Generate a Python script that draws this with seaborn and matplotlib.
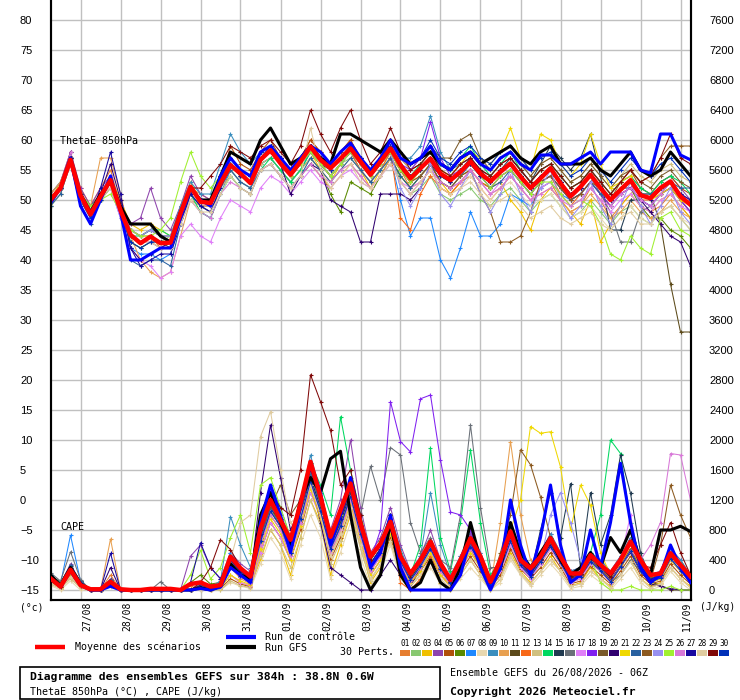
import matplotlib
matplotlib.use("Agg")
import matplotlib.pyplot as plt
from matplotlib.patches import Rectangle
from matplotlib.transforms import blended_transform_factory, offset_copy
import seaborn as sns

# ---------------- data (6-hourly steps, 0..384h from 26/08 06Z) ----------------
hours = list(range(0, 385, 6))
day_hours = [18, 42, 66, 90, 114, 138, 162, 186, 210, 234, 258, 282, 306, 330, 354, 378]
day_labels = ["27/08", "28/08", "29/08", "30/08", "31/08", "01/09", "02/09", "03/09",
              "04/09", "05/09", "06/09", "07/09", "08/09", "09/09", "10/09", "11/09"]

# ThetaE 850hPa (°C)
mean_theta = [50.0, 52.0, 56.7, 50.8, 47.6, 50.6, 53.3, 48.3, 44.2, 42.8,
              43.9, 42.8, 42.9, 47.8, 52.2, 49.7, 49.5, 52.8, 55.8, 54.4,
              52.8, 56.7, 58.3, 56.1, 54.2, 56.4, 58.9, 56.7, 55.3, 56.9,
              58.6, 56.4, 54.2, 56.4, 58.6, 55.8, 53.6, 55.3, 56.9, 54.4,
              53.3, 54.7, 56.4, 54.4, 53.1, 54.7, 56.1, 53.9, 52.0, 53.6,
              55.3, 52.8, 50.6, 52.2, 54.2, 52.0, 50.0, 51.7, 53.3, 50.8,
              50.3, 52.0, 53.1, 50.6, 49.2]
ctrl_theta = [49.5, 52, 57, 49, 46, 50, 54, 48, 40, 40, 41, 42, 42, 47, 52, 50, 49, 54, 57, 55,
              54, 58, 59, 57, 55, 57, 59, 58, 56, 58, 59.5, 57, 55, 57, 60, 57, 56, 57, 59, 56,
              55, 57, 58, 56, 55, 57, 58, 56, 55, 57.5, 57.5, 56, 56, 57, 58, 56, 58, 58, 58, 55,
              54.5, 61, 61, 57.5, 56.7]
gfs_theta = [50, 52, 57, 51, 48, 51, 53, 49, 46, 46, 46, 44, 43, 48, 52, 50, 50, 54, 58, 57,
             56, 60, 62, 59, 56, 57, 59, 57, 56, 61, 61, 60, 59, 58, 60, 58, 56, 57, 58, 56,
             55, 57, 58, 56, 57, 58, 59, 57, 56, 58, 59, 56, 56, 56, 57, 55, 54, 56, 58, 55,
             54, 55, 58, 56, 54]

t01 = [51,53,58,52,49,52,55,49,45,44,44,42,43,47,52,51,50,54,57,55,54,58,59,57,55,57,60,58,56,58,60,57,55,57,59,55,52,53,55,52,51,53,54,52,50,52,54,52,50,52,53,50,48,49,52,50,47,49,51,49,48,49,51,49,47]
t02 = [49,51,56,50,47,50,52,48,43,42,43,43,44,47,51,49,48,52,55,53,52,56,57,55,53,55,58,56,54,56,57,55,53,55,58,53,51,52,54,51,50,51,52,50,49,51,52,50,48,50,51,49,47,48,50,48,46,48,49,47,46,48,49,47,45]
t03 = [50,53,57,51,48,51,54,50,46,45,46,45,44,49,53,50,50,54,57,55,54,58,59,57,55,57,58,55,53,56,58,55,52,55,57,54,52,54,56,53,51,53,55,53,52,53,50,48,45,50,52,50,48,46,50,43,46,49,51,49,48,50,51,49,47]
t04 = [51,53,58,52,49,52,54,49,46,47,52,47,45,49,54,51,50,54,57,55,54,58,59,57,55,57,59,57,55,57,59,57,55,57,59,57,55,56,58,55,54,56,57,55,54,56,57,55,53,55,56,54,52,53,55,53,51,53,54,52,51,53,54,52,50]
t05 = [50,52,56,50,47,50,53,48,45,44,45,44,43,47,51,49,49,53,59,56,55,58,60,57,55,57,60,58,56,58,60,57,55,57,60,57,55,56,58,55,54,56,57,55,54,56,57,55,53,55,56,54,52,53,55,53,51,53,55,52,51,53,54,52,51]
t06 = [49,52,57,50,48,51,53,48,43,42,43,42,42,47,52,50,49,53,56,54,53,56,57,55,53,55,57,55,51,48,53,52,51,54,57,54,52,54,56,53,52,54,55,53,52,54,55,53,51,53,54,52,50,51,53,51,49,51,52,49,47,47,45,44,42]
t07 = [50,52,57,50,47,50,52,47,42,41,41,40,41,46,50,48,47,51,55,53,52,56,57,55,53,55,58,56,54,56,58,55,53,55,57,50,44,47,47,40,37,42,48,44,44,46,51,50,49,52,53,51,50,51,53,51,49,51,52,50,49,51,52,50,48]
t08 = [49,51,56,50,47,50,52,49,45,44,45,44,44,47,50,48,47,51,54,52,51,55,56,54,52,54,56,54,53,55,56,54,52,54,56,53,51,53,55,52,51,52,54,52,50,52,53,51,49,50,51,49,47,48,49,47,45,47,49,47,46,48,49,47,46]
t09 = [51,53,57,51,48,51,54,49,45,44,45,44,44,49,53,51,51,56,61,58,56,58,59,56,54,56,58,56,54,56,58,56,54,56,58,57,57,59,64,58,55,56,57,55,53,55,56,54,52,54,55,53,51,52,54,52,50,52,53,51,50,52,53,51,49]
t10 = [51,53,57,51,49,57,57,51,44,40,38,37,38,44,50,49,48,52,54,52,51,55,56,54,52,54,56,54,52,54,56,54,52,54,57,55,53,54,56,53,52,53,55,53,51,52,54,52,50,51,52,50,48,49,51,49,47,48,50,48,47,48,50,48,47]
t11 = [50,52,56,50,48,51,53,48,44,43,44,43,42,47,52,50,49,53,56,54,53,57,58,56,54,56,58,56,55,57,59,56,54,56,58,55,53,55,57,54,53,55,56,54,53,55,56,54,52,54,55,53,51,52,54,52,50,52,53,51,51,46,36,28,28]
t12 = [50,52,57,51,48,51,53,48,44,43,44,43,43,48,52,50,49,53,56,54,53,57,58,56,54,56,58,56,54,56,58,55,53,55,58,47,45,51,54,52,51,53,55,53,52,54,55,53,51,53,54,51,49,51,53,51,49,51,52,50,50,51,52,50,48]
t13 = [49,51,56,50,47,50,52,48,45,44,45,44,44,48,51,49,48,52,55,53,52,56,57,55,53,55,57,55,53,55,57,55,53,55,57,57,55,57,59,56,55,57,58,56,55,57,58,56,54,56,57,55,53,54,56,54,52,54,56,54,53,55,56,54,53]
t14 = [50,52,57,51,48,51,53,48,44,44,45,45,44,47,51,48,47,51,54,52,51,55,57,55,53,55,58,56,54,56,58,56,54,56,58,56,54,56,58,56,55,57,59,56,54,56,58,55,53,55,56,54,52,53,55,53,51,53,54,52,51,53,54,53,51]
t15 = [50,52,57,51,48,51,53,48,44,43,44,43,43,48,52,50,49,53,57,55,54,58,59,57,55,57,59,57,55,57,59,57,55,57,59,56,54,55,57,54,53,55,57,55,53,55,57,55,53,56,59,57,55,57,61,54,45,45,50,50,49,51,53,51,50]
t16 = [50,52,57,51,49,51,53,49,45,44,45,44,44,48,52,50,49,53,56,54,53,57,58,56,54,56,58,56,54,56,58,56,54,56,58,55,53,55,57,54,53,55,56,54,53,55,56,54,52,54,55,53,51,52,54,51,48,43,43,48,49,51,52,50,48]
t17 = [50,52,57,51,48,51,52,47,42,40,39,37,38,44,46,44,43,47,50,49,48,52,54,53,51,53,55,53,52,54,55,53,52,54,56,53,52,53,55,53,52,53,55,53,51,53,54,52,50,52,53,51,49,50,52,50,48,50,51,49,48,50,51,49,48]
t18 = [50,52,57,51,48,51,53,48,44,43,44,43,43,48,52,50,49,53,56,54,53,57,58,56,54,56,59,57,55,57,59,56,54,56,59,56,55,57,63,57,54,55,56,54,52,54,55,53,51,53,54,52,50,51,53,51,49,51,52,50,49,51,52,50,48]
t19 = [50,52,57,51,48,51,53,48,44,43,44,43,43,48,52,50,49,53,56,54,53,57,58,56,54,56,59,57,55,57,59,56,55,57,60,57,56,57,59,57,57,60,61,57,55,57,58,56,54,56,57,55,53,54,56,54,52,54,55,53,52,54,55,53,52]
t20 = [50,52,58,51,48,51,56,50,42,40,41,42,43,48,52,50,49,53,56,54,53,57,58,56,51,54,56,55,50,49,48,43,43,51,51,51,50,52,56,54,53,55,56,54,53,55,56,54,52,54,55,53,51,52,54,52,50,52,52,50,48,46,44,43,39]
t21 = [50,52,57,51,48,51,53,48,44,43,44,43,43,48,52,50,49,53,56,54,53,57,58,56,54,56,58,56,54,56,58,56,54,56,58,56,53,55,57,55,54,56,58,57,56,58,62,57,55,61,60,56,54,56,61,56,52,53,54,51,50,51,52,50,49]
t22 = [49,51,56,49,46,50,53,49,40,39,40,40,39,46,51,49,48,52,55,53,52,55,56,54,52,54,57,55,53,55,57,55,53,55,57,54,52,54,56,53,52,54,56,54,52,53,55,53,51,53,54,52,50,51,53,51,50,52,53,51,51,52,53,52,52]
t23 = [50,52,57,51,48,51,53,48,44,43,44,43,43,48,52,50,49,53,56,54,53,57,58,56,54,56,58,56,54,56,58,56,54,56,58,55,53,54,56,53,52,54,55,51,48,43,43,44,48,53,54,52,50,51,53,52,50,53,55,53,54,57,59,59,59]
t24 = [50,52,57,51,48,51,53,49,45,44,45,44,44,48,52,50,49,53,56,54,53,57,58,56,54,56,58,56,54,56,58,56,54,56,58,52,49,52,56,51,49,52,55,51,48,51,55,51,48,52,55,50,47,49,53,49,46,49,53,49,46,49,52,48,46]
t25 = [50,52,57,51,49,50,51,48,45,44,44,45,47,53,58,54,52,54,56,54,53,57,58,56,54,56,58,56,54,56,58,56,54,56,58,55,53,55,57,54,53,55,56,54,52,54,55,53,51,53,53,51,49,50,49,46,41,40,44,42,41,47,48,45,44]
t26 = [50,52,58,51,48,51,54,49,44,43,43,42,42,46,50,48,47,51,53,52,51,55,56,54,52,54,56,54,53,55,56,54,52,54,56,53,51,53,55,53,52,53,55,53,51,52,54,52,50,51,52,50,49,50,52,50,49,51,52,50,49,51,53,51,50]
t27 = [50,52,57,50,47,52,58,51,42,39,40,41,41,46,51,49,48,52,56,54,53,57,59,57,55,57,59,57,55,57,59,57,55,57,59,56,54,55,57,54,53,55,56,54,53,55,56,54,52,54,55,53,51,52,54,52,50,52,53,51,50,52,53,51,50]
t28 = [50,52,56,50,48,51,52,48,44,43,43,42,42,46,50,48,48,51,54,52,51,55,56,54,52,54,62,55,52,54,56,53,52,54,56,53,51,53,55,52,51,52,53,51,49,50,51,49,47,48,49,47,46,47,48,46,45,47,48,46,46,48,49,47,45]
t29 = [50,52,57,51,48,51,53,48,44,43,44,43,43,48,52,52,54,56,59,58,57,59,60,58,56,59,65,61,58,62,65,60,56,58,62,58,55,56,58,55,54,56,57,55,54,56,57,55,53,55,56,54,52,53,55,53,51,53,55,53,54,57,61,57,56]
t30 = [50,52,57,51,47,50,53,48,43,42,43,43,43,48,52,50,50,54,57,55,54,58,59,57,55,57,59,57,55,57,59,57,55,57,59,58,56,57,60,57,56,58,59,57,56,58,59,57,55,57,58,56,54,55,57,55,53,55,57,55,54,56,57,55,53]

# CAPE (J/kg)
mean_cape = [155, 45, 270, 65, 10, 10, 110, 10, 0, 0, 15, 15, 15, 0, 80, 100, 45, 65, 445, 290,
             180, 820, 1200, 930, 670, 1150, 1710, 1245, 710, 1065, 1420, 890, 445, 620, 910,
             445, 220, 400, 645, 355, 135, 400, 690, 445, 110, 400, 780, 400, 290, 445,
             690, 445, 220, 220, 465, 335, 220, 400, 645, 400, 200, 220, 490, 335, 180]
ctrl_cape = [150, 40, 250, 60, 0, 0, 50, 0, 0, 0, 0, 0, 0, 0, 0, 20, 0, 40, 300, 200,
             100, 900, 1400, 1000, 500, 1100, 1700, 1300, 600, 1000, 1500, 900, 300, 500, 1000,
             300, 0, 0, 0, 0, 0, 200, 700, 300, 0, 300, 1200, 600, 200, 700,
             1400, 600, 100, 200, 800, 300, 900, 1690, 900, 300, 100, 200, 600, 300, 100]
gfs_cape = [200, 60, 300, 80, 0, 0, 100, 0, 0, 0, 0, 0, 0, 0, 0, 30, 0, 50, 350, 200,
            150, 1000, 1300, 900, 600, 1200, 1500, 1300, 1750, 1850, 1000, 300, 0, 200, 900,
            200, 0, 100, 400, 100, 0, 300, 900, 400, 100, 300, 900, 500, 300, 500,
            700, 400, 200, 300, 500, 300, 700, 500, 800, 400, 200, 800, 800, 850, 780]

c01 = [120,40,300,60,0,0,200,0,0,0,0,0,0,0,60,120,40,80,400,250,150,700,1100,900,600,1000,1500,1100,600,900,1300,800,300,500,900,400,150,350,600,300,100,350,600,400,80,300,700,350,200,400,600,400,150,200,400,300,150,350,600,300,150,200,450,300,120]
c02 = [180,60,250,80,0,0,100,0,0,0,0,0,0,0,0,50,30,60,300,200,100,600,1000,800,500,900,1400,1000,500,800,1200,700,300,500,800,300,100,300,500,250,80,300,500,300,50,250,600,300,150,350,550,350,100,150,350,250,100,300,500,250,100,150,400,250,100]
c03 = [100,30,200,50,0,0,80,0,0,0,0,0,0,0,0,30,0,40,200,100,50,400,800,600,200,700,1200,900,200,600,1000,600,100,300,700,200,50,200,400,100,0,200,400,200,0,150,500,250,100,250,450,250,50,100,300,150,50,200,400,150,50,100,300,150,50]
c04 = [150,80,350,100,0,0,150,0,0,0,0,0,0,0,450,600,300,150,500,350,250,900,1300,1000,700,1200,1700,1300,800,1200,2000,1100,500,700,1100,600,250,450,800,400,150,450,750,500,150,400,850,450,300,500,750,500,250,300,500,400,250,450,700,400,200,250,550,400,200]
c05 = [90,20,180,40,0,0,60,0,0,0,0,0,0,0,0,0,0,20,150,80,40,500,900,700,400,800,1300,1000,400,700,1100,600,200,400,700,250,80,250,450,200,50,250,450,250,30,200,550,280,150,300,500,300,80,120,320,200,80,250,450,200,80,120,350,200,80]
c06 = [200,100,300,120,0,0,120,0,0,0,0,0,0,0,100,200,80,100,350,200,120,650,1100,850,550,1000,1500,1100,600,950,1300,800,350,550,850,400,150,350,550,300,100,350,600,350,80,300,650,350,200,400,600,380,150,200,380,280,130,320,550,280,120,180,420,250,100]
c07 = [150,80,730,120,0,0,50,0,0,0,0,0,0,0,0,0,0,30,500,300,150,800,1200,900,600,1100,1600,1200,700,1000,1400,900,400,600,1000,500,200,400,650,350,120,400,700,450,120,350,750,400,250,450,700,450,200,250,450,350,200,400,650,350,150,200,500,350,150]
c08 = [60,0,120,0,0,0,40,0,0,0,0,0,0,0,0,0,0,0,100,50,20,350,700,500,150,600,1000,700,150,500,900,450,50,250,600,150,0,150,300,80,0,150,300,150,0,100,400,200,50,200,350,200,20,50,200,100,0,150,300,100,0,50,250,100,0]
c09 = [130,50,260,70,0,0,100,0,0,0,0,0,0,0,0,80,40,120,980,600,300,900,1400,1100,700,1200,1800,1300,700,1100,1500,900,400,650,1000,550,200,450,1300,600,200,450,800,500,150,400,800,450,300,500,750,500,250,300,500,400,250,450,700,400,200,250,550,400,200]
c10 = [100,40,220,60,0,0,680,0,0,0,0,0,0,0,0,40,0,50,300,150,80,600,1000,800,450,900,1400,1000,500,800,1200,700,250,450,800,350,120,300,550,250,80,300,550,300,50,900,1980,1000,400,350,550,350,100,150,350,250,100,300,500,250,100,150,400,250,100]
c11 = [160,60,280,90,0,0,120,0,0,0,0,0,0,0,0,60,20,80,350,220,120,650,1050,850,500,950,1450,1050,550,850,1250,750,300,500,850,380,130,320,550,280,90,320,580,350,70,280,650,330,180,380,580,360,130,180,360,260,110,310,520,260,110,60,0,0,0]
c12 = [140,70,300,90,0,0,130,0,0,0,0,0,0,0,0,60,20,70,350,200,100,700,1100,900,550,1000,1550,1150,600,900,1300,800,300,500,900,100,0,150,450,200,60,300,550,300,60,280,650,330,180,380,580,360,130,180,380,260,110,310,520,260,110,160,420,260,110]
c13 = [80,20,150,30,0,0,50,0,0,0,0,0,0,0,0,0,0,0,120,60,30,450,800,600,300,700,1200,850,350,650,1050,550,120,350,650,200,50,200,400,120,0,200,400,200,0,150,450,220,80,250,400,250,50,80,250,150,30,200,380,150,30,80,300,150,30]
c14 = [170,70,280,100,0,0,120,0,0,0,0,0,0,0,0,50,20,80,450,250,150,750,1200,950,650,1100,1700,1400,1000,2310,1600,1000,450,650,1000,500,200,600,1890,700,250,900,1870,900,200,400,800,450,300,500,700,450,200,250,500,1000,2000,1820,900,400,150,200,500,350,150]
c15 = [200,100,320,120,0,0,140,0,0,0,0,0,0,0,0,60,30,90,400,250,130,700,1100,900,550,1000,1500,1100,600,900,1300,800,300,500,900,400,150,350,550,300,100,350,650,400,100,300,700,350,200,800,1300,700,1420,300,1300,600,1000,1800,1290,500,150,200,450,300,120]
c16 = [230,120,510,140,0,0,100,0,0,0,0,110,0,0,0,50,20,80,400,250,150,700,1150,900,600,1050,1550,1150,650,950,1350,1000,1650,1200,1900,1800,900,500,700,400,300,1000,2200,1100,300,300,700,350,200,400,650,400,150,200,400,300,100,200,400,250,120,180,450,300,120]
c17 = [120,50,250,70,0,0,80,0,0,0,0,0,0,0,0,30,0,40,200,100,60,500,900,700,400,850,1300,950,450,750,1150,650,200,400,750,300,100,250,500,200,50,250,500,300,50,250,600,300,150,350,550,350,100,150,350,250,100,400,1000,300,100,150,400,250,100]
c18 = [140,60,260,80,0,0,90,0,0,0,0,0,0,0,0,40,10,60,300,180,100,650,1050,850,500,950,1450,1050,550,850,1250,800,400,800,2510,1980,1840,2550,2600,1730,1040,1000,800,400,100,300,700,350,200,400,600,380,150,200,380,280,130,320,550,280,120,180,420,250,100]
c19 = [160,70,290,90,0,0,110,0,0,0,0,0,0,0,0,50,20,70,350,220,120,700,1100,1400,1000,1200,1600,1150,650,950,1350,850,350,550,900,450,180,380,600,320,120,380,650,420,100,320,700,380,220,420,620,400,170,220,420,320,170,380,620,320,150,220,470,320,140]
c20 = [170,80,300,100,0,0,300,0,0,0,0,0,0,0,0,60,20,80,400,250,150,1300,2200,1500,800,1100,1500,900,300,200,100,0,0,200,400,200,50,300,600,300,100,350,650,400,100,300,700,350,200,400,600,380,150,200,380,280,130,320,500,250,80,50,20,0,0]
c21 = [110,40,230,60,0,0,70,0,0,0,0,0,0,0,0,20,0,30,200,120,70,550,950,750,400,850,1350,950,450,750,1150,650,200,400,750,300,100,250,500,200,50,300,500,300,50,300,800,1200,2180,2090,2110,1640,800,1400,1130,500,200,350,550,300,100,150,400,250,100]
c22 = [200,90,330,110,0,0,130,0,0,0,0,0,0,0,0,50,20,80,400,230,130,700,1150,900,550,1050,1550,1150,650,950,1350,850,350,550,950,450,180,400,650,330,110,380,700,430,100,320,750,380,220,420,650,420,170,220,420,320,170,380,650,330,140,200,480,320,140]
c23 = [130,50,250,70,0,0,90,0,0,0,0,0,0,0,0,40,10,60,320,180,100,650,1050,850,500,950,1450,1050,550,850,1250,750,300,500,850,380,130,320,550,280,90,320,600,350,80,500,1000,1870,1670,1240,700,400,150,200,400,280,130,320,550,280,120,600,1400,1000,700]
c24 = [150,60,270,80,0,0,100,0,0,0,0,0,0,0,0,40,10,60,330,190,110,650,1050,850,500,950,1450,1050,550,850,1250,750,300,500,850,380,130,320,550,280,90,320,580,350,70,280,650,330,180,380,1000,1300,900,400,380,260,110,310,520,260,110,160,420,260,110]
c25 = [180,90,290,100,0,0,100,0,0,0,0,0,0,0,200,530,150,300,700,1000,500,1400,1500,1100,700,1100,1600,1200,700,1000,1400,900,400,600,1000,450,180,400,650,330,110,380,700,430,100,320,750,380,220,420,650,420,170,220,420,100,0,0,50,0,0,0,50,0,0]
c26 = [140,60,260,80,0,0,90,0,0,0,0,0,0,0,0,40,10,60,320,180,100,600,1000,800,450,900,1400,1000,500,800,1200,700,250,450,800,350,120,300,550,250,80,300,550,350,70,280,650,330,180,380,580,360,130,180,380,260,110,310,520,400,600,900,1820,1800,1200]
c27 = [180,80,300,100,0,0,490,0,0,0,0,0,0,0,100,630,300,150,400,250,150,750,1200,950,600,1100,1600,1200,650,950,1350,850,350,550,950,450,180,400,650,330,110,380,700,430,100,320,750,380,220,420,650,420,170,220,420,320,170,380,650,330,140,200,480,320,140]
c28 = [90,20,180,40,0,0,60,0,0,0,0,0,0,0,0,0,0,30,400,900,1000,2045,2380,1600,900,1000,1400,1000,450,750,1100,600,150,350,650,250,60,200,400,150,30,200,400,200,20,150,450,220,80,250,400,250,50,80,250,150,30,200,380,150,30,80,300,150,30]
c29 = [120,40,240,60,0,0,80,0,0,0,0,0,0,0,0,100,300,670,540,300,200,800,1300,1100,1000,1600,2870,2510,2130,1400,1600,1000,400,600,1000,450,180,400,650,330,110,380,700,430,100,320,750,380,220,420,650,420,170,220,420,320,170,380,650,330,300,600,900,500,200]
c30 = [160,70,280,90,0,0,100,0,0,0,0,0,0,0,0,40,10,60,330,190,110,650,1050,850,500,950,1450,1050,550,850,1250,750,300,500,850,380,130,320,550,280,90,320,580,350,70,280,650,330,180,380,580,360,130,180,380,260,110,310,520,260,110,160,420,260,110]

member_colors = ["#e67e30", "#88c870", "#f0c000", "#8e44ad", "#b0500a", "#5a8a00",
                 "#1e88ff", "#e8d8b0", "#3a8ebe", "#e8a050", "#5c4a1a", "#f86818",
                 "#d0c080", "#00d860", "#203a50", "#6a7078", "#e080f8", "#8020f0",
                 "#7a5a2a", "#300070", "#f0d800", "#2860a0", "#8c5a20", "#9890f0",
                 "#a0f030", "#d878d8", "#1808a0", "#e0cca0", "#800808", "#0030b8"]

pert_theta = [t01, t02, t03, t04, t05, t06, t07, t08, t09, t10, t11, t12, t13, t14, t15,
              t16, t17, t18, t19, t20, t21, t22, t23, t24, t25, t26, t27, t28, t29, t30]
pert_cape = [c01, c02, c03, c04, c05, c06, c07, c08, c09, c10, c11, c12, c13, c14, c15,
             c16, c17, c18, c19, c20, c21, c22, c23, c24, c25, c26, c27, c28, c29, c30]

for k, (a, b) in enumerate(zip(pert_theta, pert_cape)):
    if len(a) != 65 or len(b) != 65:
        raise ValueError(f"member {k + 1}: {len(a)} / {len(b)}")

MONO = "DejaVu Sans Mono"
plt.rcParams["font.family"] = ["Liberation Sans", "DejaVu Sans"]

# ---------------- figure ----------------
fig = plt.figure(figsize=(7.4, 7.0), dpi=100)
ax = fig.add_axes([50.5 / 740, 100 / 700, 640 / 740, 600 / 700])
ax.set_xlim(0, 384)
ax.set_ylim(-15 - 10 / 6, 80 + 20 / 6)
ax.set_yticks(range(-15, 81, 5))
ax.set_xticks(day_hours)
ax.set_xticklabels([])
ax.grid(True, color="#c0c0c0", linewidth=1)
ax.set_axisbelow(True)
ax.tick_params(length=0)
ax.tick_params(axis="y", labelsize=8, pad=22)
for lab in ax.get_yticklabels():
    lab.set_horizontalalignment("left")

ax2 = ax.twinx()
lo, hi = ax.get_ylim()
ax2.set_ylim((lo + 15) * 80, (hi + 15) * 80)
ax2.set_yticks(range(0, 7601, 400))
ax2.tick_params(length=0, labelsize=8, pad=13.3)

for a in (ax, ax2):
    a.spines["top"].set_visible(False)
    for s in ("left", "right", "bottom"):
        a.spines[s].set_linewidth(1.5)
        a.spines[s].set_color("black")


def draw(axis, values, color, lw, z, marker=True):
    if marker:
        extra = dict(marker="+", markersize=3, markeredgewidth=0.8, markeredgecolor=color)
    else:
        extra = dict(marker=None)
    sns.lineplot(x=hours, y=values, ax=axis, color=color, linewidth=lw,
                 legend=False, zorder=z, estimator=None, **extra)


for col, th, cp in zip(member_colors, pert_theta, pert_cape):
    draw(ax, th, col, 0.75, 2)
    draw(ax2, cp, col, 0.75, 2)

draw(ax, gfs_theta, "black", 2.2, 3, marker=False)
draw(ax2, gfs_cape, "black", 2.2, 3, marker=False)
draw(ax, ctrl_theta, "#0000ff", 2.2, 4, marker=False)
draw(ax2, ctrl_cape, "#0000ff", 2.2, 4, marker=False)
draw(ax, mean_theta, "#ff0000", 3.2, 5, marker=False)
draw(ax2, mean_cape, "#ff0000", 3.2, 5, marker=False)
ax2.set_xlabel("")
ax2.set_ylabel("")
ax.set_xlabel("")
ax.set_ylabel("")

# date labels (rotated)
trans = offset_copy(blended_transform_factory(ax.transData, ax.transAxes),
                    fig=fig, x=6.5, y=-2, units="dots")
for h, lab in zip(day_hours, day_labels):
    ax.text(h, 0, lab, transform=trans, rotation=90, ha="center", va="top",
            fontsize=7, family=MONO, clip_on=False)

# ---------------- overlay in pixel coordinates ----------------
ov = fig.add_axes([0, 0, 1, 1], zorder=10)
ov.set_xlim(0, 740)
ov.set_ylim(700, 0)
ov.axis("off")

ov.text(60, 141, "ThetaE 850hPa", family=MONO, fontsize=7.2, va="center")
ov.text(60, 527, "CAPE", family=MONO, fontsize=7.2, va="center")
ov.text(20, 607, "(°c)", family=MONO, fontsize=7, va="center")
ov.text(700, 607, "(J/kg)", family=MONO, fontsize=7, va="center")

ov.plot([35, 65], [647, 647], color="#ff0000", lw=3.2, solid_capstyle="butt")
ov.text(75, 647, "Moyenne des scénarios", family=MONO, fontsize=7.2, va="center")
ov.plot([226, 256], [637, 637], color="#0000ff", lw=3, solid_capstyle="butt")
ov.text(265, 637, "Run de contrôle", family=MONO, fontsize=7.2, va="center")
ov.plot([226, 256], [647, 647], color="black", lw=3, solid_capstyle="butt")
ov.text(265, 648, "Run GFS", family=MONO, fontsize=7.2, va="center")
ov.text(340, 652, "30 Perts.", family=MONO, fontsize=7.2, va="center")

for k, col in enumerate(member_colors):
    x0 = 400 + k * 11.01
    ov.add_patch(Rectangle((x0, 650), 9.5, 6, facecolor=col, edgecolor="none"))
    ov.text(x0 + 4.8, 643, f"{k + 1:02d}", family=MONO, fontsize=5.6,
            ha="center", va="center")

ov.add_patch(Rectangle((20, 667), 420, 32, facecolor="none", edgecolor="black", lw=1.2))
ov.text(30, 677, "Diagramme des ensembles GEFS sur 384h : 38.8N 0.6W",
        family=MONO, fontsize=8.2, fontweight="bold", va="center")
ov.text(30, 692, "ThetaE 850hPa (°C) , CAPE (J/kg)", family=MONO, fontsize=7.2, va="center")
ov.text(450, 673, "Ensemble GEFS du 26/08/2026 - 06Z", family=MONO, fontsize=7.2, va="center")
ov.text(450, 692, "Copyright 2026 Meteociel.fr", family=MONO, fontsize=8.2,
        fontweight="bold", va="center")

fig.savefig("out.png", dpi=100)
